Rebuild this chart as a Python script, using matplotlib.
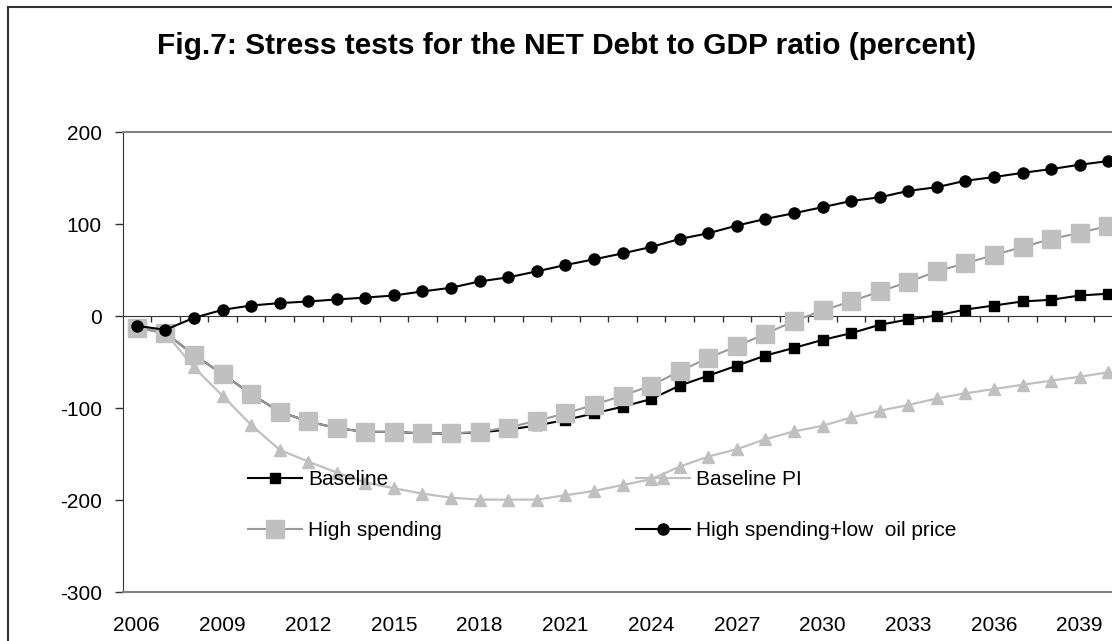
# coding=utf-8

import numpy as np
import matplotlib
matplotlib.use('Agg')
import matplotlib.pyplot as plt
from matplotlib.patches import Rectangle

plt.rcParams['font.family'] = ['Liberation Sans', 'DejaVu Sans']
plt.rcParams['axes.unicode_minus'] = False

# Values (percent of GDP)
years = list(range(2006, 2041))

baseline = [-12.9, -18.3, -42.3, -63.0, -84.8, -104.0, -114.6, -121.9, -125.9, -125.9,
            -127.7, -127.7, -126.5, -123.5, -119.0, -113.0, -105.9, -98.6, -90.3, -75.7,
            -64.9, -54.0, -43.0, -34.7, -26.0, -18.7, -9.6, -3.8, 0.5, 7.0,
            11.4, 15.8, 17.6, 22.3, 24.2]

baseline_pi = [-12.9, -18.3, -55.8, -86.6, -118.3, -145.5, -158.2, -170.2, -181.0, -187.3,
               -193.1, -197.5, -199.6, -199.6, -199.6, -194.8, -190.2, -183.7, -177.5, -163.7,
               -152.8, -144.8, -133.9, -125.5, -119.3, -110.3, -103.0, -96.8, -89.6, -84.1,
               -79.4, -74.7, -70.3, -66.0, -61.2]

high_spending = [-12.9, -18.3, -42.3, -63.0, -84.8, -104.0, -114.6, -121.9, -125.9, -125.9,
                 -127.7, -127.7, -125.9, -121.2, -113.9, -105.9, -96.5, -86.6, -75.7, -60.0,
                 -45.6, -32.9, -19.4, -5.6, 6.0, 15.8, 26.7, 36.9, 48.5, 57.2,
                 66.3, 75.0, 83.7, 90.3, 98.0]

high_low_oil = [-10.7, -15.0, -2.0, 6.7, 11.4, 14.0, 15.8, 18.0, 20.0, 22.3,
                26.7, 30.7, 37.6, 42.0, 48.5, 55.4, 61.6, 68.0, 75.0, 83.7,
                89.9, 98.3, 105.5, 111.7, 118.3, 125.0, 129.0, 136.0, 140.0, 147.0,
                151.0, 155.6, 159.7, 164.4, 168.4]

title = "Fig.7: Stress tests for the NET Debt to GDP ratio (percent)"

W, H = 1112, 641
fig = plt.figure(figsize=(W / 100, H / 100), dpi=100)

# outer chart frame (right and bottom edges fall outside the picture)
fig.add_artist(Rectangle((8 / W, -0.1), 1.2, 1 - 7.5 / H + 0.1, transform=fig.transFigure,
                         fill=False, ec='#333333', lw=1.5))

ax = fig.add_axes([122.5 / W, 1 - 592 / H, 1000 / W, (592 - 132) / H])

x = np.arange(len(years))
h_base, = ax.plot(x, baseline, color='black', lw=1.5, marker='s', ms=7, label='Baseline', zorder=3)
h_pi, = ax.plot(x, baseline_pi, color='#C0C0C0', lw=1.6, marker='^', ms=8,
                label='Baseline PI', zorder=4)
h_high, = ax.plot(x, high_spending, color='#999999', lw=1.5, marker='s', ms=13,
                  mfc='#C0C0C0', mec='#C0C0C0', label='High spending', zorder=5)
h_oil, = ax.plot(x, high_low_oil, color='black', lw=1.5, marker='o', ms=8,
                 label='High spending+low  oil price', zorder=6)

ax.set_xlim(-0.5, len(years) - 0.5)
ax.set_ylim(-300, 200)
ax.set_yticks(range(-300, 201, 100))
ax.set_xticks(x[::3])
ax.set_xticklabels([str(y) for y in years[::3]])
ax.tick_params(axis='x', length=0, pad=17, labelsize=15)
ax.tick_params(axis='y', length=5.8, width=1, pad=9, labelsize=15, color='#333333')

ax.spines['right'].set_visible(False)
ax.spines['left'].set_color('#333333')
ax.spines['top'].set_color('#808080')
ax.spines['top'].set_linewidth(1.5)
ax.spines['bottom'].set_color('#808080')
ax.spines['bottom'].set_linewidth(1.5)

# category axis crossing at zero, ticks between categories
sec = ax.secondary_xaxis(0, transform=ax.transData)
sec.set_xticks(np.arange(0.5, len(years) - 0.5, 1))
sec.tick_params(axis='x', length=4.3, width=1, direction='out', labelbottom=False, color='#333333')
sec.spines['bottom'].set_color('#333333')

leg = ax.legend(handles=[h_base, h_high, h_pi, h_oil], ncol=2, frameon=False,
                loc='upper left', bbox_to_anchor=(248 / W, 1 - 470 / H),
                bbox_transform=fig.transFigure, borderpad=0, borderaxespad=0,
                handlelength=2.6, handletextpad=0.3, columnspacing=9.3,
                labelspacing=1.55, fontsize=15)
leg.set_zorder(10)

fig.text(157 / W, 1 - 46 / H, title, ha='left', va='center', fontsize=21.5, fontweight='bold')

fig.savefig('out.png', dpi=100)
